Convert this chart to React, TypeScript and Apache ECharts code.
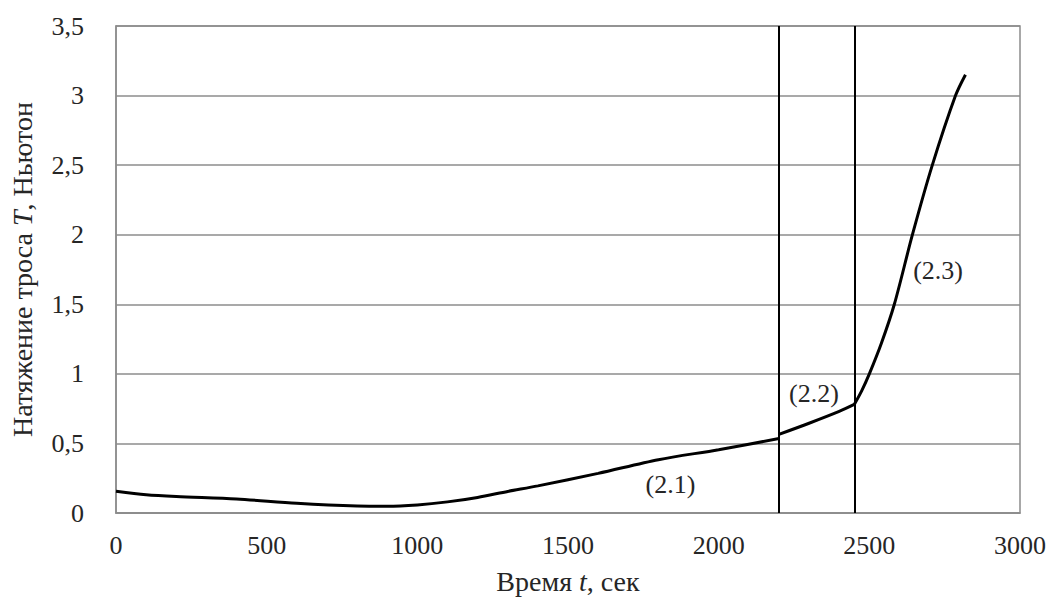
import React, { useEffect, useRef } from "react";
import * as echarts from "echarts";

const seg1T = [0, 100, 200, 400, 600, 800, 900, 1000, 1100, 1200, 1300, 1400, 1600, 1800, 2000, 2200];
const seg1V = [0.157, 0.132, 0.119, 0.101, 0.07, 0.05, 0.048, 0.058, 0.08, 0.112, 0.155, 0.195, 0.285, 0.383, 0.455, 0.535];
const seg2T = [2200, 2300, 2400, 2450];
const seg2V = [0.565, 0.645, 0.73, 0.78];
const seg3T = [2450, 2475, 2500, 2540, 2583, 2643, 2709, 2786, 2819];
const seg3V = [0.78, 0.88, 1.0, 1.22, 1.5, 2.0, 2.5, 3.0, 3.15];
const boundaries = [2200, 2450];
const labelNames = ["(2.1)", "(2.2)", "(2.3)"];
const labelT = [1840, 2316, 2728];
const labelV = [0.205, 0.857, 1.74];

const FONT = "'Liberation Serif', 'Times New Roman', serif";
const TXT = "#262626";

export default function App() {
  const ref = useRef<HTMLDivElement>(null);
  useEffect(() => {
    if (!ref.current) return;
    const chart = echarts.init(ref.current, undefined, { renderer: "svg" });
    const lineStyle = { color: "#000", width: 3 };
    const mk = (t: number[], v: number[]) => t.map((x, i) => [x, v[i]]);
    const nameStyle = {
      fontFamily: FONT,
      fontSize: 28,
      color: TXT,
      rich: { i: { fontFamily: FONT, fontSize: 28, fontStyle: "italic", color: TXT } },
    };
    chart.setOption({
      animation: false,
      backgroundColor: "#fff",
      grid: { left: 108, right: 33, top: 26, bottom: 88, show: true, borderColor: "#8c8c8c", borderWidth: 1.5 },
      xAxis: {
        type: "value",
        min: 0,
        max: 3000,
        interval: 500,
        name: "Время {i|t}, сек",
        nameLocation: "middle",
        nameGap: 54,
        nameTextStyle: nameStyle,
        axisLine: { show: true, lineStyle: { color: "#8c8c8c", width: 1.5 } },
        axisTick: { show: false },
        splitLine: { show: false },
        axisLabel: { fontFamily: FONT, fontSize: 26, color: TXT, margin: 19, formatter: (v: number) => String(v) },
      },
      yAxis: {
        type: "value",
        min: 0,
        max: 3.5,
        interval: 0.5,
        name: "Натяжение троса {i|T}, Ньютон",
        nameLocation: "middle",
        nameGap: 80,
        nameTextStyle: nameStyle,
        axisLine: { show: true, lineStyle: { color: "#8c8c8c", width: 1.5 } },
        axisTick: { show: false },
        splitLine: { show: true, lineStyle: { color: "#8c8c8c", width: 1.5 } },
        axisLabel: {
          fontFamily: FONT,
          fontSize: 26,
          color: TXT,
          margin: 32,
          formatter: (v: number) => String(v).replace(".", ","),
        },
      },
      series: [
        {
          type: "line",
          data: mk(seg1T, seg1V),
          smooth: 0.3,
          showSymbol: false,
          lineStyle,
          z: 5,
          markLine: {
            silent: true,
            symbol: ["none", "none"],
            label: { show: false },
            lineStyle: { color: "#000", width: 2, type: "solid" },
            data: boundaries.map((b) => ({ xAxis: b })),
          },
          markPoint: {
            symbol: "circle",
            symbolSize: 0,
            data: labelNames.map((n, i) => ({
              coord: [labelT[i], labelV[i]],
              value: n,
              label: {
                show: true,
                formatter: n,
                position: "inside",
                fontFamily: FONT,
                fontSize: 26,
                color: TXT,
              },
            })),
          },
        },
        { type: "line", data: mk(seg2T, seg2V), smooth: 0.3, showSymbol: false, lineStyle, z: 5 },
        { type: "line", data: mk(seg3T, seg3V), smooth: 0.3, showSymbol: false, lineStyle, z: 5 },
      ],
    });
    return () => chart.dispose();
  }, []);
  return <div ref={ref} style={{ position: "absolute", left: 0, top: 0, width: 1053, height: 601 }} />;
}
